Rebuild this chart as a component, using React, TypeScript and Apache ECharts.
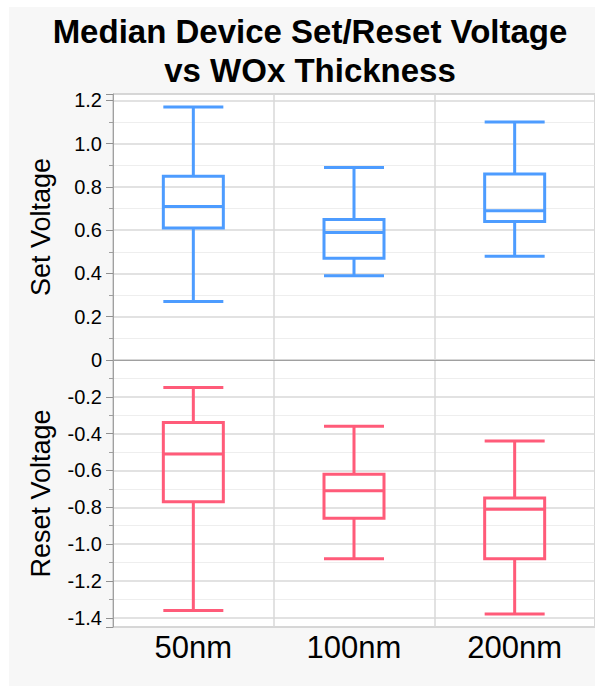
import React, { useEffect, useRef } from "react";
import * as echarts from "echarts";

const categories = ["50nm", "100nm", "200nm"];
// [min, Q1, median, Q3, max]
const setVoltage = [
  [0.27, 0.61, 0.71, 0.85, 1.17],
  [0.39, 0.47, 0.59, 0.65, 0.89],
  [0.48, 0.64, 0.69, 0.86, 1.1],
];
const resetVoltage = [
  [-1.36, -0.77, -0.51, -0.34, -0.15],
  [-1.08, -0.86, -0.71, -0.62, -0.36],
  [-1.38, -1.08, -0.81, -0.75, -0.44],
];
const titleLines = ["Median Device Set/Reset Voltage", "vs WOx Thickness"];
const setAxisName = "Set Voltage";
const resetAxisName = "Reset Voltage";
const setRange = [0, 1.23];
const resetRange = [-1.45, 0];

const FONT = "'Liberation Sans', Arial, sans-serif";
const BLUE = "#4d9cff";
const RED = "#ff5b79";

function fmt(v: number) {
  return Math.abs(v) < 1e-9 ? "0" : v.toFixed(1);
}

function yAxis(gridIndex: number, range: number[], name: string, hideMin: boolean, hideMax: boolean) {
  return {
    type: "value",
    gridIndex,
    min: range[0],
    max: range[1],
    minInterval: 0.2,
    maxInterval: 0.2,
    splitNumber: 7,
    name,
    nameLocation: "middle",
    nameGap: 59,
    nameTextStyle: { fontSize: 27, color: "#000", fontFamily: FONT },
    axisLine: { show: true, lineStyle: { color: "#a0a0a0", width: 1 } },
    axisTick: { show: true, length: 7, lineStyle: { color: "#909090" } },
    minorTick: { show: true, splitNumber: 2, length: 4, lineStyle: { color: "#a0a0a0" } },
    splitLine: { show: true, lineStyle: { color: "#d8d8d8", width: 1.5 } },
    minorSplitLine: { show: true, lineStyle: { color: "#eeeeee", width: 1 } },
    axisLabel: {
      fontSize: 20,
      color: "#000",
      fontFamily: FONT,
      margin: 11,
      showMinLabel: !hideMin,
      showMaxLabel: !hideMax,
      formatter: fmt,
    },
  };
}

export default function App() {
  const ref = useRef<HTMLDivElement>(null);
  useEffect(() => {
    if (!ref.current) return;
    const chart = echarts.init(ref.current, undefined, { renderer: "svg" });
    const xBase = {
      type: "category",
      data: categories,
      boundaryGap: true,
      axisTick: { show: false },
      splitLine: { show: true, lineStyle: { color: "#d8d8d8", width: 1.5 } },
    };
    chart.setOption({
      animation: false,
      backgroundColor: "#ffffff",
      graphic: {
        elements: [
          {
            type: "rect",
            z: -100,
            silent: true,
            shape: { x: 9, y: 7, width: 586, height: 679 },
            style: { fill: "#f7f7f7" },
          },
        ],
      },
      title: {
        text: titleLines.join("\n"),
        left: 310,
        top: 12,
        padding: 0,
        textAlign: "center",
        textStyle: {
          fontSize: 33,
          fontWeight: "bold",
          color: "#000",
          fontFamily: FONT,
          lineHeight: 39,
        },
      },
      grid: [
        {
          left: 113,
          top: 94,
          right: 0,
          height: 266,
          show: true,
          backgroundColor: "#ffffff",
          borderColor: "#a8a8a8",
          borderWidth: 1,
        },
        {
          left: 113,
          top: 360,
          right: 0,
          height: 267,
          show: true,
          backgroundColor: "#ffffff",
          borderColor: "#a8a8a8",
          borderWidth: 1,
        },
      ],
      xAxis: [
        {
          ...xBase,
          gridIndex: 0,
          axisLine: { show: false },
          axisLabel: { show: false },
        },
        {
          ...xBase,
          gridIndex: 1,
          axisLine: { show: true, lineStyle: { color: "#a0a0a0" } },
          axisLabel: { fontSize: 31, color: "#000", fontFamily: FONT, margin: 5 },
        },
      ],
      yAxis: [
        yAxis(0, setRange, setAxisName, false, true),
        yAxis(1, resetRange, resetAxisName, true, true),
      ],
      series: [
        {
          type: "boxplot",
          name: setAxisName,
          xAxisIndex: 0,
          yAxisIndex: 0,
          data: setVoltage,
          boxWidth: [60, 60],
          itemStyle: { color: "transparent", borderColor: BLUE, borderWidth: 3 },
        },
        {
          type: "boxplot",
          name: resetAxisName,
          xAxisIndex: 1,
          yAxisIndex: 1,
          data: resetVoltage,
          boxWidth: [60, 60],
          itemStyle: { color: "transparent", borderColor: RED, borderWidth: 3 },
        },
      ],
    });
    return () => chart.dispose();
  }, []);
  return (
    <div
      ref={ref}
      style={{ position: "absolute", left: 0, top: 0, width: 595, height: 686 }}
    />
  );
}
